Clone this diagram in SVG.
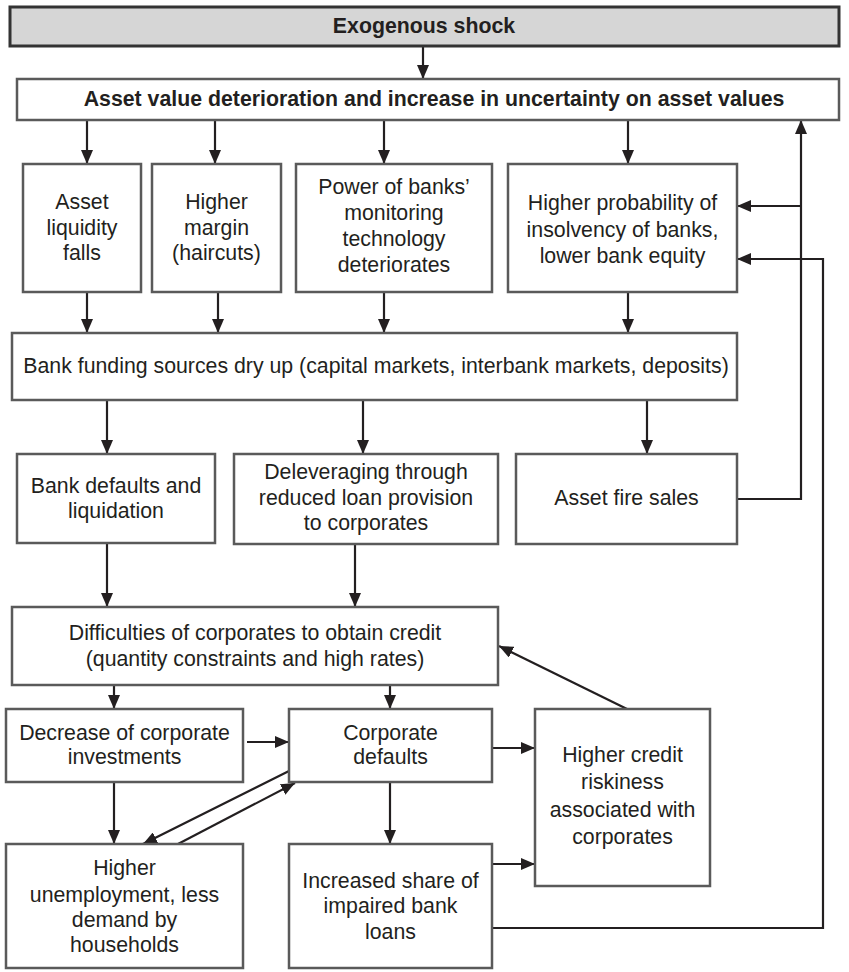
<svg xmlns="http://www.w3.org/2000/svg" width="849" height="972" viewBox="0 0 849 972">
  <style>
    .box { fill: #ffffff; stroke: #5a5a5a; stroke-width: 2.5; }
    .head { fill: #d6d6d6; stroke: #333333; stroke-width: 3; }
    .t { font-family: "Liberation Sans", Arial, sans-serif; font-size: 21.3px; fill: #231f20; text-anchor: middle; }
    .tb { font-family: "Liberation Sans", Arial, sans-serif; font-size: 21.3px; font-weight: bold; fill: #231f20; text-anchor: middle; }
    .c { fill: none; stroke: #231f20; stroke-width: 2.2; }
  </style>
  <defs>
    <marker id="ah" viewBox="0 0 14 12" refX="14" refY="6" markerWidth="14" markerHeight="12" markerUnits="userSpaceOnUse" orient="auto">
      <path d="M0,0 L14,6 L0,12 Z" fill="#231f20"/>
    </marker>
  </defs>

  <!-- connectors -->
  <g id="connectors">
    <line class="c" x1="423" y1="46" x2="423" y2="79" marker-end="url(#ah)"/>
    <line class="c" x1="87" y1="120" x2="87" y2="164" marker-end="url(#ah)"/>
    <line class="c" x1="215" y1="120" x2="215" y2="164" marker-end="url(#ah)"/>
    <line class="c" x1="384" y1="120" x2="384" y2="164" marker-end="url(#ah)"/>
    <line class="c" x1="628" y1="120" x2="628" y2="164" marker-end="url(#ah)"/>

    <line class="c" x1="87" y1="292" x2="87" y2="333" marker-end="url(#ah)"/>
    <line class="c" x1="218" y1="292" x2="218" y2="333" marker-end="url(#ah)"/>
    <line class="c" x1="384" y1="292" x2="384" y2="333" marker-end="url(#ah)"/>
    <line class="c" x1="628" y1="292" x2="628" y2="333" marker-end="url(#ah)"/>

    <line class="c" x1="107" y1="400" x2="107" y2="454" marker-end="url(#ah)"/>
    <line class="c" x1="363" y1="400" x2="363" y2="454" marker-end="url(#ah)"/>
    <line class="c" x1="647" y1="400" x2="647" y2="454" marker-end="url(#ah)"/>

    <line class="c" x1="107" y1="543" x2="107" y2="607" marker-end="url(#ah)"/>
    <line class="c" x1="355" y1="544" x2="355" y2="607" marker-end="url(#ah)"/>

    <line class="c" x1="114" y1="685" x2="114" y2="709" marker-end="url(#ah)"/>
    <line class="c" x1="390" y1="685" x2="390" y2="709" marker-end="url(#ah)"/>

    <line class="c" x1="247" y1="742" x2="289" y2="742" marker-end="url(#ah)"/>
    <line class="c" x1="492" y1="748" x2="535" y2="748" marker-end="url(#ah)"/>

    <line class="c" x1="114" y1="782" x2="114" y2="844" marker-end="url(#ah)"/>
    <line class="c" x1="390" y1="782" x2="390" y2="844" marker-end="url(#ah)"/>

    <line class="c" x1="289" y1="771" x2="143" y2="844" marker-end="url(#ah)"/>
    <line class="c" x1="178" y1="844" x2="295" y2="783" marker-end="url(#ah)"/>

    <line class="c" x1="492" y1="864" x2="535" y2="864" marker-end="url(#ah)"/>
    <line class="c" x1="627" y1="709" x2="499" y2="646" marker-end="url(#ah)"/>

    <!-- feedback from fire sales back to asset values -->
    <polyline class="c" points="737,499 801,499 801,120" marker-end="url(#ah)"/>
    <line class="c" x1="801" y1="206" x2="737" y2="206" marker-end="url(#ah)"/>
    <!-- feedback from impaired loans back to bank solvency -->
    <polyline class="c" points="492,928 823,928 823,259 737,259" marker-end="url(#ah)"/>
  </g>

  <g id="exogenous-shock">
    <rect class="head" x="10" y="7" width="829" height="39"/>
    <text class="tb" x="424" y="33">Exogenous shock</text>
  </g>

  <g id="asset-value">
    <rect class="box" x="17" y="79" width="822" height="41"/>
    <text class="tb" x="434" y="106">Asset value deterioration and increase in uncertainty on asset values</text>
  </g>

  <g id="asset-liquidity">
    <rect class="box" x="23" y="164" width="118" height="128"/>
    <text class="t" x="82" y="209">Asset</text>
    <text class="t" x="82" y="235">liquidity</text>
    <text class="t" x="82" y="260">falls</text>
  </g>

  <g id="higher-margin">
    <rect class="box" x="152" y="164" width="129" height="128"/>
    <text class="t" x="216.5" y="209">Higher</text>
    <text class="t" x="216.5" y="235">margin</text>
    <text class="t" x="216.5" y="260">(haircuts)</text>
  </g>

  <g id="monitoring">
    <rect class="box" x="296" y="164" width="196" height="128"/>
    <text class="t" x="394" y="194">Power of banks’</text>
    <text class="t" x="394" y="220">monitoring</text>
    <text class="t" x="394" y="246">technology</text>
    <text class="t" x="394" y="272">deteriorates</text>
  </g>

  <g id="insolvency">
    <rect class="box" x="508" y="164" width="229" height="128"/>
    <text class="t" x="622.5" y="210">Higher probability of</text>
    <text class="t" x="622.5" y="237">insolvency of banks,</text>
    <text class="t" x="622.5" y="263">lower bank equity</text>
  </g>

  <g id="funding">
    <rect class="box" x="12" y="333" width="725" height="67"/>
    <text class="t" x="376" y="373">Bank funding sources dry up (capital markets, interbank markets, deposits)</text>
  </g>

  <g id="bank-defaults">
    <rect class="box" x="17" y="454" width="198" height="89"/>
    <text class="t" x="116" y="493">Bank defaults and</text>
    <text class="t" x="116" y="518">liquidation</text>
  </g>

  <g id="deleveraging">
    <rect class="box" x="234" y="454" width="264" height="90"/>
    <text class="t" x="366" y="479">Deleveraging through</text>
    <text class="t" x="366" y="505">reduced loan provision</text>
    <text class="t" x="366" y="530">to corporates</text>
  </g>

  <g id="fire-sales">
    <rect class="box" x="516" y="454" width="221" height="90"/>
    <text class="t" x="626.5" y="505">Asset fire sales</text>
  </g>

  <g id="credit-difficulties">
    <rect class="box" x="12" y="607" width="486" height="78"/>
    <text class="t" x="255" y="640">Difficulties of corporates to obtain credit</text>
    <text class="t" x="255" y="666">(quantity constraints and high rates)</text>
  </g>

  <g id="investments">
    <rect class="box" x="6" y="709" width="237" height="73"/>
    <text class="t" x="124.5" y="740">Decrease of corporate</text>
    <text class="t" x="124.5" y="764">investments</text>
  </g>

  <g id="corporate-defaults">
    <rect class="box" x="289" y="709" width="203" height="73"/>
    <text class="t" x="390.5" y="740">Corporate</text>
    <text class="t" x="390.5" y="764">defaults</text>
  </g>

  <g id="credit-riskiness">
    <rect class="box" x="535" y="709" width="175" height="177"/>
    <text class="t" x="622.5" y="762">Higher credit</text>
    <text class="t" x="622.5" y="789">riskiness</text>
    <text class="t" x="622.5" y="817">associated with</text>
    <text class="t" x="622.5" y="844">corporates</text>
  </g>

  <g id="unemployment">
    <rect class="box" x="6" y="844" width="237" height="124"/>
    <text class="t" x="124.5" y="875">Higher</text>
    <text class="t" x="124.5" y="902">unemployment, less</text>
    <text class="t" x="124.5" y="927">demand by</text>
    <text class="t" x="124.5" y="952">households</text>
  </g>

  <g id="impaired-loans">
    <rect class="box" x="289" y="844" width="203" height="124"/>
    <text class="t" x="390.5" y="888">Increased share of</text>
    <text class="t" x="390.5" y="913">impaired bank</text>
    <text class="t" x="390.5" y="939">loans</text>
  </g>
</svg>
